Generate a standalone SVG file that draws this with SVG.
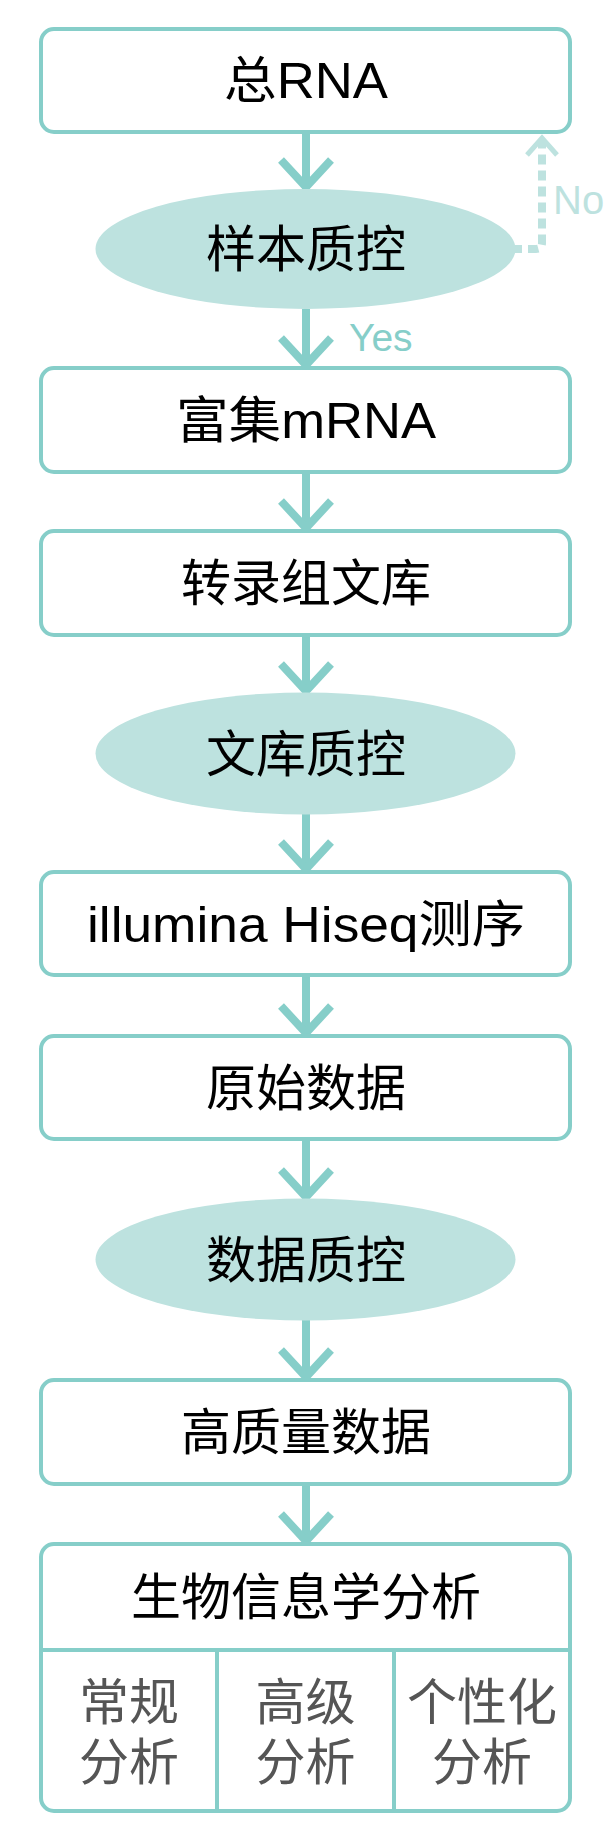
<svg xmlns="http://www.w3.org/2000/svg" width="614" height="1831" viewBox="0 0 614 1831">
<style>
.box{fill:#fff;stroke:#86CEC9;stroke-width:4}
.ell{fill:#BDE2DF}
.t{font-family:"Liberation Sans","Noto Sans CJK SC",sans-serif;font-size:50px;fill:#000;text-anchor:middle}
.s{fill:#555}
.ln{stroke:#86CEC9;stroke-width:8;fill:none}
.hd{stroke:#86CEC9;stroke-width:8;fill:none;stroke-linejoin:miter;stroke-linecap:butt}
</style>
<rect width="614" height="1831" fill="#fff"/>
<g id="connectors">
<line class="ln" x1="306" y1="133" x2="306" y2="186"/><polyline class="hd" points="281,160 306,187 331,160"/>
<line class="ln" x1="306" y1="309" x2="306" y2="364"/><polyline class="hd" points="281,338 306,365 331,338"/>
<line class="ln" x1="306" y1="473" x2="306" y2="527"/><polyline class="hd" points="281,501 306,528 331,501"/>
<line class="ln" x1="306" y1="636" x2="306" y2="690"/><polyline class="hd" points="281,664 306,691 331,664"/>
<line class="ln" x1="306" y1="814" x2="306" y2="868"/><polyline class="hd" points="281,842 306,869 331,842"/>
<line class="ln" x1="306" y1="976" x2="306" y2="1032"/><polyline class="hd" points="281,1006 306,1033 331,1006"/>
<line class="ln" x1="306" y1="1140" x2="306" y2="1196"/><polyline class="hd" points="281,1170 306,1197 331,1170"/>
<line class="ln" x1="306" y1="1320" x2="306" y2="1376"/><polyline class="hd" points="281,1350 306,1377 331,1350"/>
<line class="ln" x1="306" y1="1485" x2="306" y2="1540"/><polyline class="hd" points="281,1514 306,1541 331,1514"/>
<path d="M512,249 H536 Q542,249 542,243 V140" fill="none" stroke="#BDE2DF" stroke-width="8" stroke-dasharray="10 6"/>
<polyline points="527,155 542,138 557,155" fill="none" stroke="#BDE2DF" stroke-width="5"/>
<text x="553" y="214" font-family="Liberation Sans, sans-serif" font-size="40" fill="#BDE2DF">No</text>
<text x="349" y="351" font-family="Liberation Sans, sans-serif" font-size="39" fill="#86CEC9">Yes</text>
</g>
<g id="n1"><rect class="box" x="41" y="29" width="529" height="103" rx="13"/><text class="t" x="306" y="98" textLength="164" lengthAdjust="spacingAndGlyphs">总RNA</text></g>
<g id="n2"><ellipse class="ell" cx="305.5" cy="249" rx="210" ry="60"/><text class="t" x="306" y="267">样本质控</text></g>
<g id="n3"><rect class="box" x="41" y="368" width="529" height="104" rx="13"/><text class="t" x="306" y="438" textLength="260" lengthAdjust="spacingAndGlyphs">富集mRNA</text></g>
<g id="n4"><rect class="box" x="41" y="531" width="529" height="104" rx="13"/><text class="t" x="306" y="601">转录组文库</text></g>
<g id="n5"><ellipse class="ell" cx="305.5" cy="753.5" rx="210" ry="61"/><text class="t" x="306" y="772">文库质控</text></g>
<g id="n6"><rect class="box" x="41" y="872" width="529" height="103" rx="13"/><text class="t" x="306" y="942" textLength="438" lengthAdjust="spacingAndGlyphs">illumina Hiseq测序</text></g>
<g id="n7"><rect class="box" x="41" y="1036" width="529" height="103" rx="13"/><text class="t" x="306" y="1106">原始数据</text></g>
<g id="n8"><ellipse class="ell" cx="305.5" cy="1259.5" rx="210" ry="61"/><text class="t" x="306" y="1278">数据质控</text></g>
<g id="n9"><rect class="box" x="41" y="1380" width="529" height="104" rx="13"/><text class="t" x="306" y="1450">高质量数据</text></g>
<g id="n10">
<rect class="box" x="41" y="1544" width="529" height="267" rx="13"/>
<line x1="41" y1="1650" x2="570" y2="1650" stroke="#86CEC9" stroke-width="4"/>
<line x1="217" y1="1650" x2="217" y2="1811" stroke="#86CEC9" stroke-width="4"/>
<line x1="394" y1="1650" x2="394" y2="1811" stroke="#86CEC9" stroke-width="4"/>
<text class="t" x="306" y="1615">生物信息学分析</text>
<text class="t s" x="129" y="1720">常规</text><text class="t s" x="129" y="1780">分析</text>
<text class="t s" x="305.5" y="1720">高级</text><text class="t s" x="305.5" y="1780">分析</text>
<text class="t s" x="482" y="1720">个性化</text><text class="t s" x="482" y="1780">分析</text>
</g>
</svg>
